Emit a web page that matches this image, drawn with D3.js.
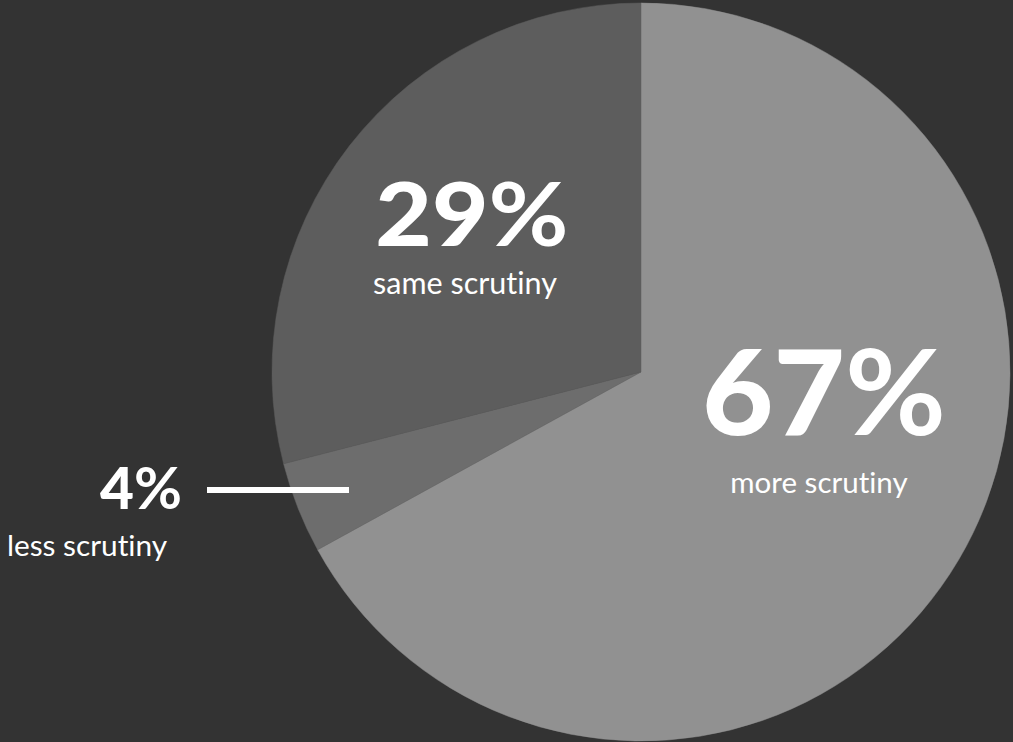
<!DOCTYPE html>
<html>
<head>
<meta charset="utf-8">
<script src="https://cdn.jsdelivr.net/npm/d3@7"></script>
<style>
  html, body { margin: 0; padding: 0; background: #333333; }
  svg { display: block; }
  text { font-family: Lato, "Open Sans", sans-serif; fill: #ffffff; font-variant-ligatures: none; font-feature-settings: "liga" 0; }
</style>
</head>
<body>
<svg id="chart" width="1013" height="742"></svg>
<script>
// Share of respondents by expected level of scrutiny
const categories = ["more scrutiny", "less scrutiny", "same scrutiny"];
const values = [67, 4, 29];
const sliceColors = ["#919191", "#6d6d6d", "#5d5d5d"];

const width = 1013, height = 742;
const cx = 641, cy = 372, radius = 369;

const svg = d3.select("#chart");
svg.append("rect").attr("width", width).attr("height", height).attr("fill", "#333333");

const pie = d3.pie().sort(null).value(d => d.value);
const arc = d3.arc().innerRadius(0).outerRadius(radius);

const data = categories.map((c, i) => ({ name: c, value: values[i], color: sliceColors[i] }));
const arcs = pie(data);

const g = svg.append("g").attr("transform", `translate(${cx},${cy})`);
g.selectAll("path.slice")
  .data(arcs)
  .enter().append("path")
  .attr("class", "slice")
  .attr("d", arc)
  .attr("fill", d => d.data.color)
  .attr("stroke", d => d.data.color)
  .attr("stroke-width", 0.5);

// Label layout: big percentage (slightly widened) with the category name underneath
const labelLayout = {
  "more scrutiny": { x: 824, y: 435, size: 118, sx: 1.045, subX: 819, subY: 493, subSize: 29.5 },
  "same scrutiny": { x: 472, y: 246, size: 88, sx: 1.11, subX: 465, subY: 294, subSize: 30.5 },
  "less scrutiny": { x: 141, y: 509, size: 58, sx: 1.01, subX: 87, subY: 556, subSize: 29.8 }
};

arcs.forEach(a => {
  const L = labelLayout[a.data.name];
  const t = svg.append("g")
    .attr("transform", `translate(${L.x},${L.y}) scale(${L.sx},1)`)
    .append("text")
    .attr("text-anchor", "middle")
    .attr("font-size", L.size)
    .attr("font-weight", 900);
  t.append("tspan").text(a.data.value);
  t.append("tspan").attr("font-weight", 700).text("%");
  svg.append("text")
    .attr("x", L.subX).attr("y", L.subY)
    .attr("text-anchor", "middle")
    .attr("font-size", L.subSize)
    .attr("font-weight", 400)
    .text(a.data.name);
});

// Leader line from the small-slice label toward its slice
svg.append("line")
  .attr("x1", 207).attr("x2", 349)
  .attr("y1", 490).attr("y2", 490)
  .attr("stroke", "#ffffff")
  .attr("stroke-width", 6);
</script>
</body>
</html>
